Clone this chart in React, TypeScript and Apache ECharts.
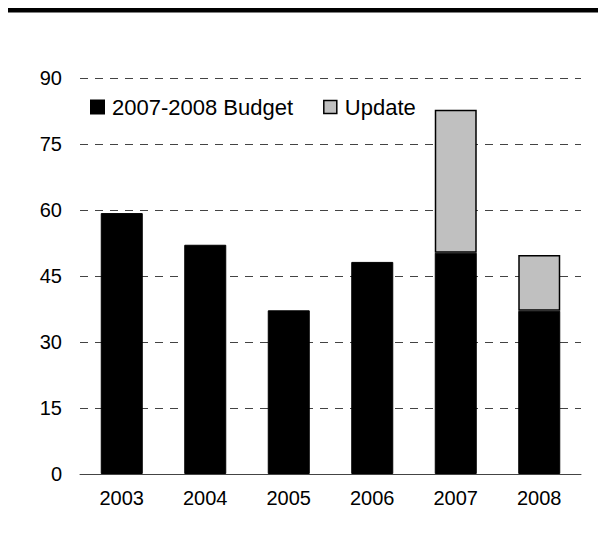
import React, { useEffect, useRef } from "react";
import * as echarts from "echarts";

const categories = ["2003", "2004", "2005", "2006", "2007", "2008"];
const budgetValues = [59.3, 52.1, 37.2, 48.2, 50.3, 37.1];
const updateValues: (number | null)[] = [null, null, null, null, 32.5, 12.7];
const yTicks = { min: 0, max: 90, interval: 15 };

const FONT = "'Liberation Sans', Arial, sans-serif";

export default function App() {
  const ref = useRef<HTMLDivElement>(null);
  useEffect(() => {
    if (!ref.current) return;
    const chart = echarts.init(ref.current, undefined, { renderer: "svg" });
    chart.setOption({
      animation: false,
      backgroundColor: "#ffffff",
      textStyle: { fontFamily: FONT },
      graphic: [
        { type: "rect", shape: { x: 8, y: 8, width: 590, height: 4.5 }, style: { fill: "#000" } },
      ],
      legend: {
        left: 90,
        top: 96,
        padding: 0,
        itemWidth: 13,
        itemHeight: 13,
        itemGap: 30,
        textStyle: { fontSize: 22, color: "#000", fontFamily: FONT, padding: [0, 0, 0, 3] },
        data: [
          { name: "2007-2008 Budget", icon: "rect", itemStyle: { color: "#000" } },
          { name: "Update", icon: "rect", itemStyle: { color: "#c0c0c0", borderColor: "#000", borderWidth: 1.5 } },
        ],
      },
      grid: { left: 80, right: 17, top: 78, bottom: 59, containLabel: false },
      xAxis: {
        type: "category",
        data: categories,
        axisLine: { show: true, lineStyle: { color: "#444", width: 1 } },
        axisTick: { show: false },
        axisLabel: { fontSize: 20, color: "#000", margin: 14, fontFamily: FONT },
      },
      yAxis: {
        type: "value",
        min: yTicks.min,
        max: yTicks.max,
        interval: yTicks.interval,
        axisLine: { show: false },
        axisTick: { show: false },
        axisLabel: { fontSize: 20, color: "#000", margin: 18, fontFamily: FONT },
        splitLine: { show: true, lineStyle: { color: "#444", width: 1, type: [8, 7] } },
      },
      series: [
        {
          name: "2007-2008 Budget",
          type: "bar",
          stack: "total",
          barWidth: 42,
          data: budgetValues,
          itemStyle: { color: "#000", borderColor: "#000", borderWidth: 1 },
        },
        {
          name: "Update",
          type: "bar",
          stack: "total",
          barWidth: 42,
          data: updateValues,
          itemStyle: { color: "#c0c0c0", borderColor: "#000", borderWidth: 1.5 },
        },
      ],
    });
    return () => chart.dispose();
  }, []);
  return (
    <div
      ref={ref}
      style={{ position: "absolute", left: 0, top: 0, width: 598, height: 533 }}
    />
  );
}
